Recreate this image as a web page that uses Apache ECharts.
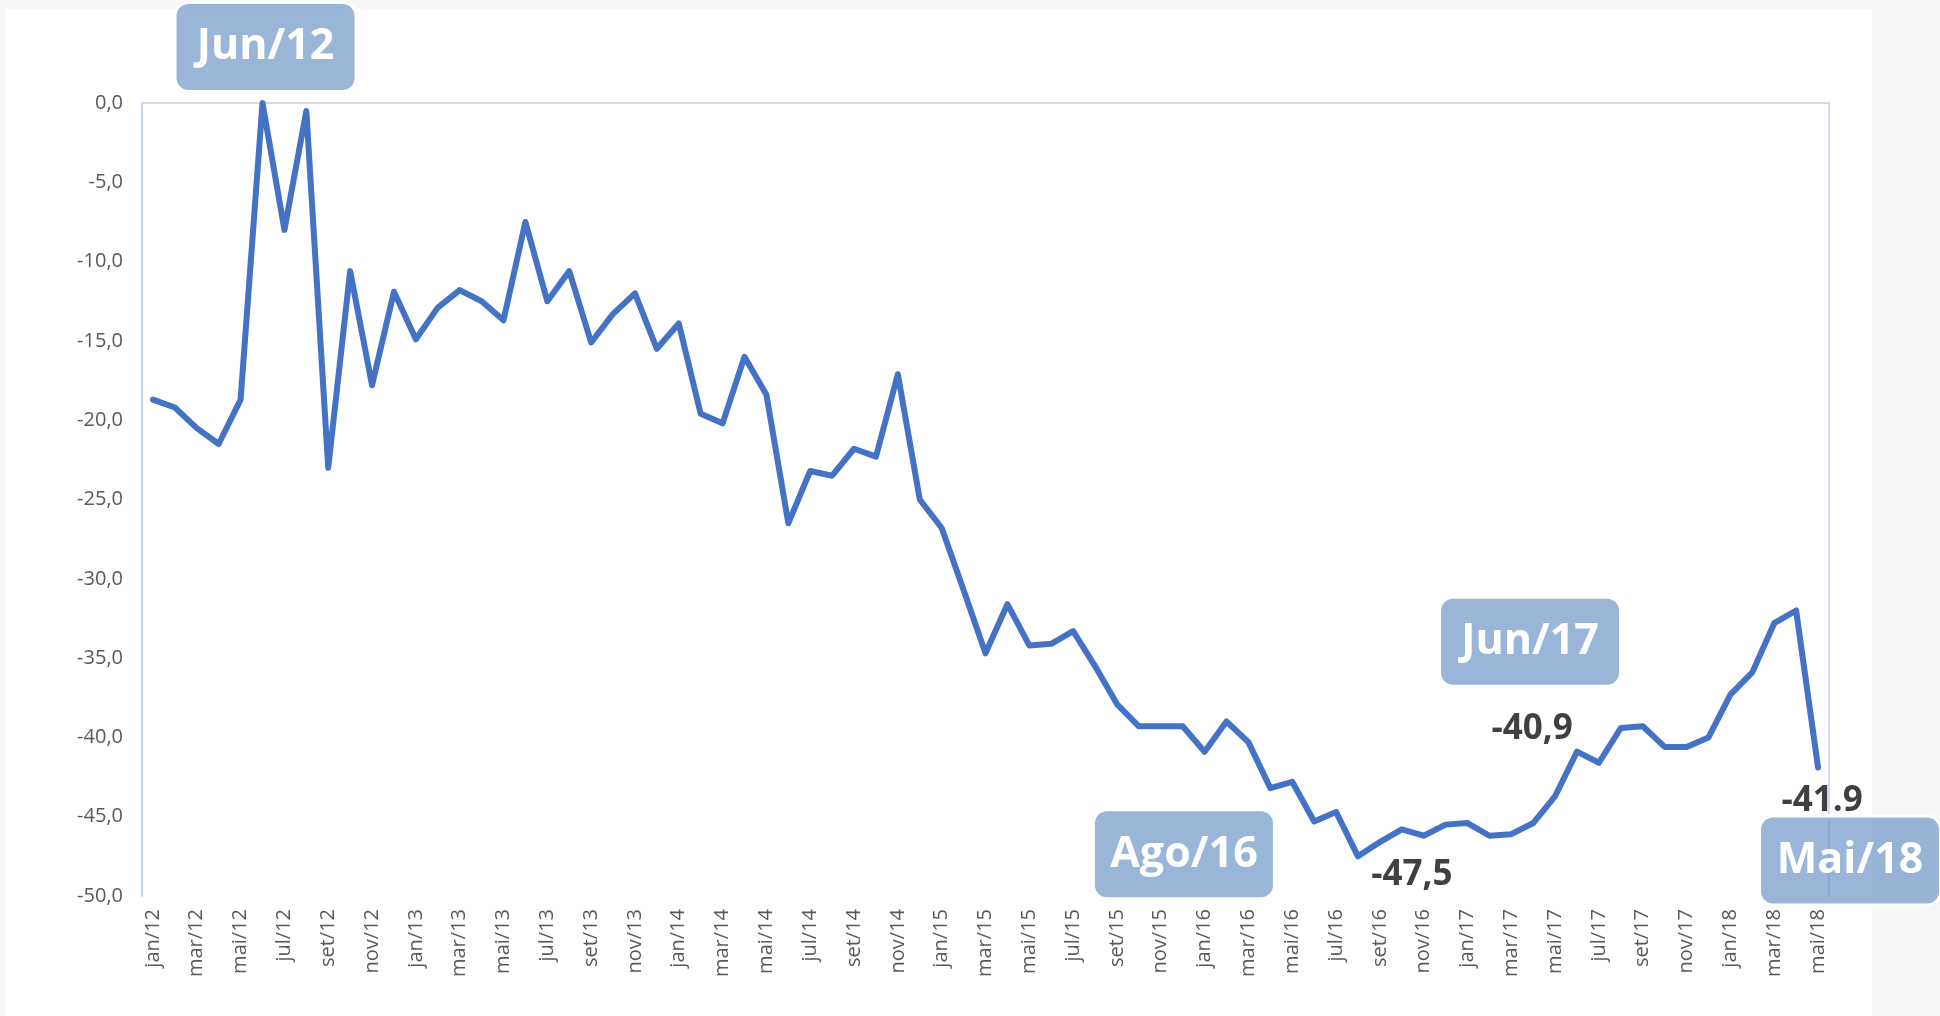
<!DOCTYPE html>
<html>
<head>
<meta charset="utf-8">
<title>Indicador mensal</title>
<script src="https://cdn.jsdelivr.net/npm/echarts/dist/echarts.min.js"></script>
<style>
    html, body { margin: 0; padding: 0; background: #f7f7f7; }
    #main { width: 1940px; height: 1016px; }
</style>
</head>
<body>
<div id="main"></div>
<script>
//meses e anos do eixo x
var monthNames = ['jan', 'fev', 'mar', 'abr', 'mai', 'jun', 'jul', 'ago', 'set', 'out', 'nov', 'dez'];
var years = ['12', '13', '14', '15', '16', '17', '18'];
var lastMonthCount = 5; //2018 vai até mai

//valores mensais jan/12 - mai/18
var values = [
    -18.7, -19.2, -20.5, -21.5, -18.7, 0.0, -8.0, -0.5, -23.0, -10.6, -17.8, -11.9,
    -14.9, -12.9, -11.8, -12.5, -13.7, -7.5, -12.5, -10.6, -15.1, -13.3, -12.0, -15.5,
    -13.9, -19.6, -20.2, -16.0, -18.4, -26.5, -23.2, -23.5, -21.8, -22.3, -17.1, -25.0,
    -26.8, -30.7, -34.7, -31.6, -34.2, -34.1, -33.3, -35.5, -37.9, -39.3, -39.3, -39.3,
    -40.9, -39.0, -40.3, -43.2, -42.8, -45.3, -44.7, -47.5, -46.6, -45.8, -46.2, -45.5,
    -45.4, -46.2, -46.1, -45.4, -43.7, -40.9, -41.6, -39.4, -39.3, -40.6, -40.6, -40.0,
    -37.3, -35.9, -32.8, -32.0, -41.9
];

//rótulos de valor e caixas de destaque
var valueLabelIdx = [55, 65, 76];
var valueLabelText = ['-47,5', '-40,9', '-41.9'];
var boxIdx = [5, 55, 65, 76];
var boxText = ['Jun/12', 'Ago/16', 'Jun/17', 'Mai/18'];

//monta categorias
var categories = [];
for (var y = 0; y < years.length; y++) {
    var n = (y == years.length - 1) ? lastMonthCount : 12;
    for (var m = 0; m < n; m++) {
        categories.push(monthNames[m] + '/' + years[y]);
    }
}

var chart = echarts.init(document.getElementById('main'));

//deslocamentos (px) dos textos em relação ao ponto
var valueOffsets = [[54, 19], [-45, -23], [4, 33]];
var boxOffsets = [[3, -56], [-174, -2], [-47, -110], [32, 93]];

var marks = [];
for (var i = 0; i < valueLabelIdx.length; i++) {
    marks.push({
        coord: [categories[valueLabelIdx[i]], values[valueLabelIdx[i]]],
        label: {
            show: true,
            position: 'inside',
            offset: valueOffsets[i],
            formatter: valueLabelText[i],
            color: '#404040',
            fontSize: 35,
            fontWeight: 'bold',
            fontFamily: 'Open Sans'
        }
    });
}
for (var j = 0; j < boxIdx.length; j++) {
    marks.push({
        coord: [categories[boxIdx[j]], values[boxIdx[j]]],
        label: {
            show: true,
            position: 'inside',
            offset: boxOffsets[j],
            formatter: boxText[j],
            color: '#fff',
            fontSize: 43,
            fontWeight: 'bold',
            fontFamily: 'Open Sans',
            backgroundColor: 'rgba(79,129,189,0.58)',
            borderColor: '#fff',
            borderWidth: 3,
            borderRadius: 12,
            width: 178,
            height: 82,
            lineHeight: 82,
            padding: [4, 0, 0, 0],
            align: 'center',
            verticalAlign: 'middle'
        }
    });
}

var option = {
    backgroundColor: '#f7f7f7',
    animation: false,
    graphic: [{
        type: 'rect',
        z: -10,
        silent: true,
        shape: { x: 5, y: 9, width: 1867, height: 1010 },
        style: { fill: '#fff' }
    }],
    grid: {
        left: 142,
        right: 111,
        top: 103,
        bottom: 120
    },
    xAxis: [{
        type: 'category',
        data: categories,
        boundaryGap: true,
        axisLine: { lineStyle: { color: '#c3d2ec', width: 2 } },
        axisTick: { show: false },
        axisLabel: {
            interval: 1,
            rotate: 90,
            margin: 13,
            color: '#595959',
            fontSize: 20,
            fontFamily: 'Open Sans'
        }
    }, {
        type: 'category',
        data: categories,
        position: 'top',
        axisLine: { lineStyle: { color: '#d9d9d9', width: 2 } },
        axisTick: { show: false },
        axisLabel: { show: false }
    }],
    yAxis: [{
        type: 'value',
        min: -50,
        max: 0,
        interval: 5,
        axisLine: { show: true, lineStyle: { color: '#c3d2ec', width: 2 } },
        axisTick: { show: false },
        splitLine: { show: false },
        axisLabel: {
            margin: 19,
            color: '#595959',
            fontSize: 20,
            fontFamily: 'Open Sans',
            formatter: function (v) {
                return v.toFixed(1).replace('.', ',');
            }
        }
    }, {
        type: 'value',
        position: 'right',
        min: -50,
        max: 0,
        axisLine: { show: true, lineStyle: { color: '#d3def2', width: 2 } },
        axisTick: { show: false },
        axisLabel: { show: false },
        splitLine: { show: false }
    }],
    series: [{
        type: 'line',
        data: values,
        showSymbol: false,
        lineStyle: { color: '#4472c4', width: 6, join: 'round', cap: 'round' },
        itemStyle: { color: '#4472c4' },
        markPoint: {
            symbol: 'circle',
            symbolSize: 1,
            itemStyle: { color: 'rgba(0,0,0,0)' },
            silent: true,
            data: marks
        }
    }]
};

chart.setOption(option);
</script>
</body>
</html>
